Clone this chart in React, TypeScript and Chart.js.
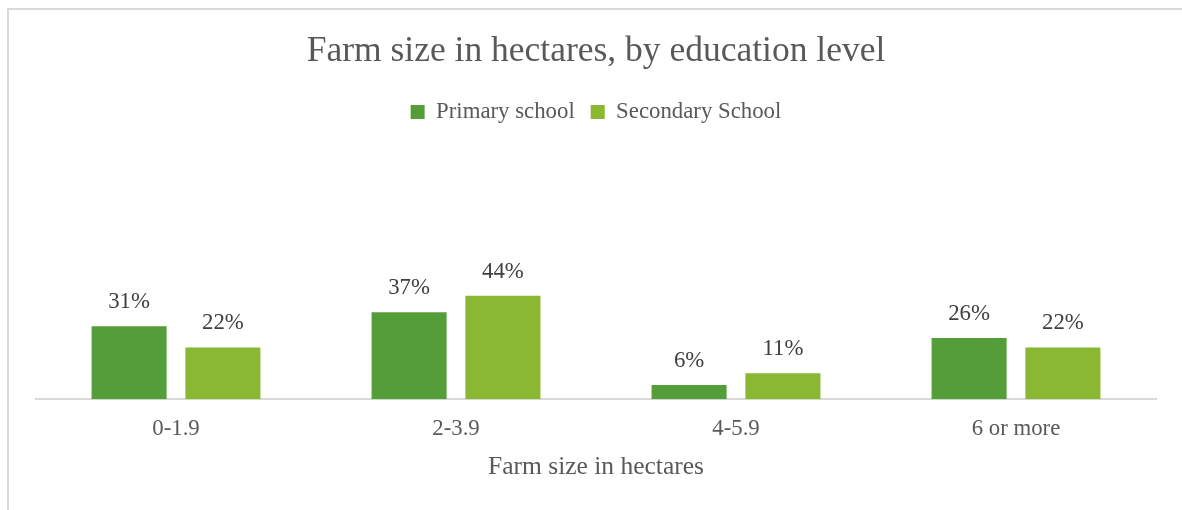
import React, { useEffect, useRef } from "react";
import { Chart, registerables } from "chart.js";

Chart.register(...registerables);

const categories = ["0-1.9", "2-3.9", "4-5.9", "6 or more"];
const primarySchool = [31, 37, 6, 26];
const secondarySchool = [22, 44, 11, 22];
const seriesNames = ["Primary school", "Secondary School"];

const FONT = "'Liberation Serif', 'Times New Roman', serif";

const dataLabelPlugin = {
  id: "dataLabels",
  afterDatasetsDraw(chart: any) {
    const ctx = chart.ctx;
    ctx.save();
    ctx.font = `22.8px ${FONT}`;
    ctx.fillStyle = "#404040";
    ctx.textAlign = "center";
    ctx.textBaseline = "alphabetic";
    chart.data.datasets.forEach((ds: any, i: number) => {
      const meta = chart.getDatasetMeta(i);
      meta.data.forEach((bar: any, j: number) => {
        ctx.fillText(`${ds.data[j]}%`, bar.x, bar.y - 18);
      });
    });
    ctx.restore();
  },
};

export default function App() {
  const ref = useRef<HTMLCanvasElement | null>(null);
  useEffect(() => {
    document.documentElement.style.overflow = "hidden";
    document.body.style.overflow = "hidden";
    if (!ref.current) return;
    const chart = new Chart(ref.current, {
      type: "bar",
      data: {
        labels: categories,
        datasets: [
          {
            label: seriesNames[0],
            data: primarySchool,
            backgroundColor: "#549E39",
            categoryPercentage: 0.67,
            barPercentage: 0.8,
          },
          {
            label: seriesNames[1],
            data: secondarySchool,
            backgroundColor: "#8AB833",
            categoryPercentage: 0.67,
            barPercentage: 0.8,
          },
        ],
      },
      options: {
        animation: false,
        responsive: true,
        maintainAspectRatio: false,
        layout: { padding: { left: 27, right: 26, top: 0, bottom: 22 } },
        plugins: {
          title: {
            display: true,
            text: "Farm size in hectares, by education level",
            color: "#595959",
            font: { family: FONT, size: 35.5, weight: "normal" },
            padding: { top: 20, bottom: 12 },
          },
          legend: {
            display: true,
            position: "top",
            labels: {
              color: "#595959",
              font: { family: FONT, size: 22.8 },
              boxWidth: 14,
              boxHeight: 14,
              padding: 16,
            },
          },
          tooltip: { enabled: false },
        },
        scales: {
          x: {
            grid: { display: false, drawTicks: false },
            border: { display: true, color: "#d9d9d9", width: 2 },
            ticks: {
              color: "#595959",
              font: { family: FONT, size: 22.8 },
              padding: 16,
            },
            title: {
              display: true,
              text: "Farm size in hectares",
              color: "#595959",
              font: { family: FONT, size: 25.5, lineHeight: 1.0 },
              padding: { top: -4, bottom: 0 },
            },
          },
          y: {
            display: false,
            min: 0,
            max: 113.2,
          },
        },
      },
      plugins: [dataLabelPlugin],
    });
    return () => chart.destroy();
  }, []);

  return (
    <div style={{ position: "relative", width: 1166, height: 494 }}>
      <div
        style={{
          position: "fixed",
          left: 7,
          top: 8,
          width: 1200,
          height: 520,
          boxSizing: "border-box",
          borderTop: "2px solid #d9d9d9",
          borderLeft: "2px solid #d9d9d9",
          background: "#ffffff",
        }}
      />
      <div
        style={{
          position: "fixed",
          left: 9,
          top: 10,
          width: 1173,
          height: 492,
        }}
      >
        <canvas ref={ref} />
      </div>
    </div>
  );
}
